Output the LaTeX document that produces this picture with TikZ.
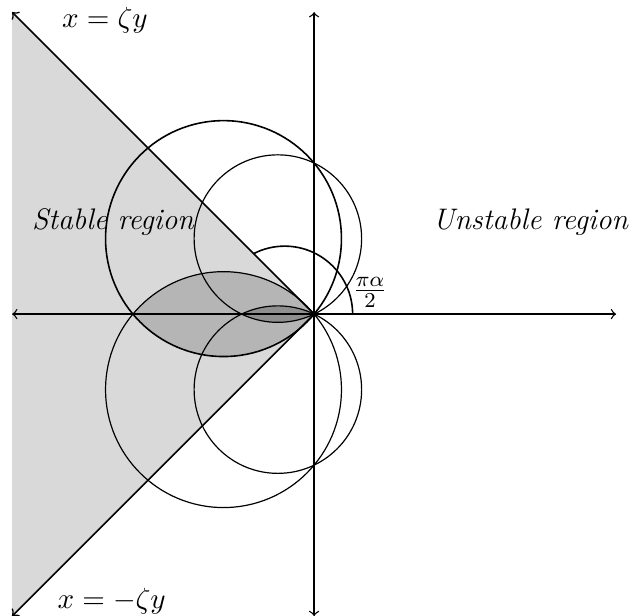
\documentclass[tikz,border=0pt]{standalone}
\usetikzlibrary{arrows}
\begin{document}
\begin{tikzpicture}[
  axis/.style={line width=0.5pt,<->},
  ray/.style={semithick,->},
  circ/.style={line width=0.45pt},
  lbl/.style={inner sep=1pt,font=\fontsize{11.2}{13}\selectfont}
]
\useasboundingbox (-4.16,-3.99) rectangle (4.21,4.16);
% stable region fill
\fill[black!15] (0,0) -- (-4,4) -- (-4,-4) -- cycle;
% lens fills
\begin{scope}
  \clip (-1.2,1) circle ({sqrt(2.44)});
  \fill[black!29] (-1.2,-1) circle ({sqrt(2.44)});
\end{scope}
\begin{scope}
  \clip (-0.48,1) circle ({sqrt(1.2304)});
  \fill[black!44] (-0.48,-1) circle ({sqrt(1.2304)});
\end{scope}
% circles
\draw[semithick] (-1.2,1) circle ({sqrt(2.44)});
\draw[circ] (-1.2,-1) circle ({sqrt(2.44)});
\draw[circ] (-0.48,1) circle ({sqrt(1.2304)});
\draw[circ] (-0.48,-1) circle ({sqrt(1.2304)});
% axes
\coordinate (O) at (0,0);
\coordinate (L) at (-4,0);
\coordinate (R) at (4,0);
\coordinate (T) at (0,4);
\coordinate (B) at (0,-4);
\coordinate (UL) at (-4,4);
\coordinate (DL) at (-4,-4);
\draw[axis] (L) -- (R);
\draw[axis] (B) -- (T);
\draw[ray] (O) -- (UL);
\draw[ray] (O) -- (DL);
% angle arc
\coordinate (A0) at (0.51,0);
\draw[semithick] (A0) arc (0:117:0.9);
% labels
\node[lbl] (l1) at (-2.77,3.89) {$x=\zeta y$};
\node[lbl] (l2) at (-2.68,-3.80) {$x=-\zeta y$};
\node[lbl] (l3) at (-2.66,1.22) {\textit{Stable region}};
\node[lbl] (l4) at (2.87,1.22) {\textit{Unstable region}};
\node[lbl] (l5) at (0.74,0.29) {$\frac{\pi\alpha}{2}$};
\end{tikzpicture}
\end{document}
